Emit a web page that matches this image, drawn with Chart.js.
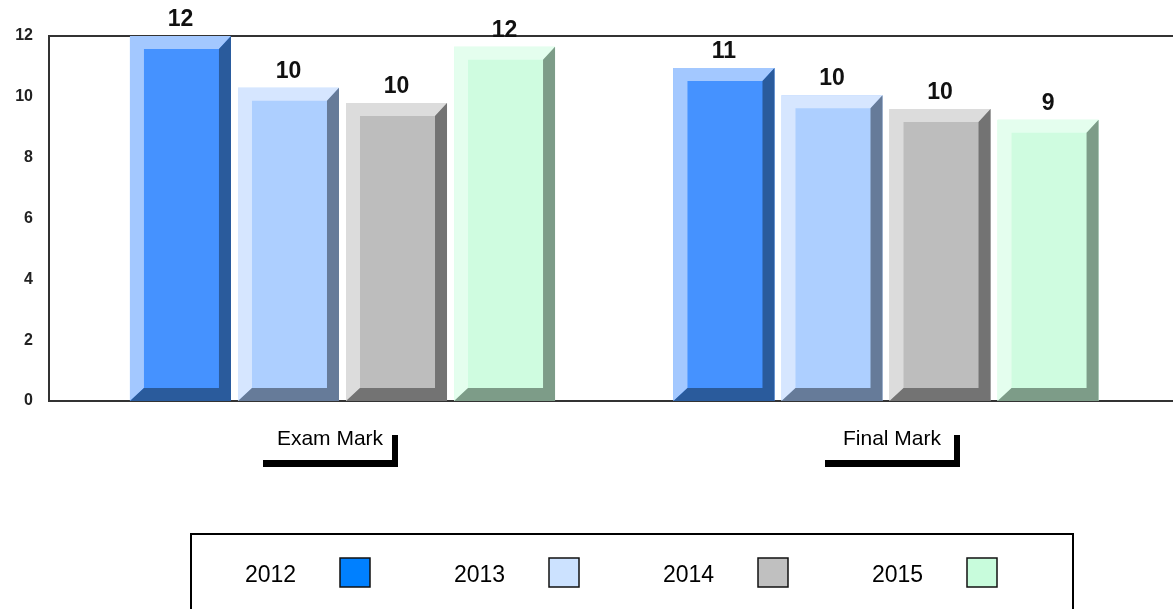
<!DOCTYPE html>
<html><head><meta charset="utf-8">
<script src="https://cdn.jsdelivr.net/npm/chart.js@4/dist/chart.umd.min.js"></script>
<style>html,body{margin:0;padding:0;background:#fff;overflow:hidden}#wrap{width:1173px;height:609px;position:relative}canvas{display:block}</style>
</head><body><div id="wrap"><canvas id="c" width="1173" height="609"></canvas></div>
<script>
// ---- data ----
const categories = ['Exam Mark', 'Final Mark'];
const seriesNames = ['2012', '2013', '2014', '2015'];
const values2012 = [12.0, 10.95];
const values2013 = [10.3, 10.05];
const values2014 = [9.8, 9.6];
const values2015 = [11.65, 9.25];
const yTickValues = [0, 2, 4, 6, 8, 10, 12];

// ---- styles ----
const FONT = 'Arial, "Liberation Sans", sans-serif';
const styles = [
  {front: '#4592FF', light: '#A3C8FF', dark: '#2A5B9C', legend: '#0080FF'},
  {front: '#ADCFFF', light: '#D6E6FF', dark: '#667B99', legend: '#CCE2FF'},
  {front: '#BDBDBD', light: '#DCDCDC', dark: '#737373', legend: '#C0C0C0'},
  {front: '#CFFCE0', light: '#E4FEEE', dark: '#7D9C88', legend: '#C8FCDC'}
];
const seriesValues = [values2012, values2013, values2014, values2015];

const datasets = seriesNames.map((name, s) => ({
  label: name,
  data: seriesValues[s].map((v, i) => ({x: i, y: v})),
  backgroundColor: styles[s].front,
  borderWidth: 0,
  xAxisID: 'x',
  yAxisID: 'y'
}));

const bevelPlugin = {
  id: 'bevel',
  afterDatasetsDraw(chart) {
    const ctx = chart.ctx;
    chart.data.datasets.forEach((ds, di) => {
      const meta = chart.getDatasetMeta(di);
      const st = styles[di];
      meta.data.forEach((bar, i) => {
        const p = bar.getProps(['x', 'y', 'base', 'width'], true);
        const L = p.x - p.width / 2, R = p.x + p.width / 2, T = p.y, B = p.base;
        const dl = 14, dt = 13, dr = 12, db = 13;
        ctx.save();
        ctx.fillStyle = st.light;
        ctx.beginPath();
        ctx.moveTo(L, B); ctx.lineTo(L, T); ctx.lineTo(R, T);
        ctx.lineTo(R - dr, T + dt); ctx.lineTo(L + dl, T + dt); ctx.lineTo(L + dl, B - db);
        ctx.closePath(); ctx.fill();
        ctx.fillStyle = st.dark;
        ctx.beginPath();
        ctx.moveTo(R, T); ctx.lineTo(R, B); ctx.lineTo(L, B);
        ctx.lineTo(L + dl, B - db); ctx.lineTo(R - dr, B - db); ctx.lineTo(R - dr, T + dt);
        ctx.closePath(); ctx.fill();
        ctx.font = 'bold 23px ' + FONT;
        ctx.fillStyle = '#111';
        ctx.textAlign = 'center';
        ctx.textBaseline = 'alphabetic';
        ctx.fillText(String(Math.round(ds.data[i].y)), p.x, T - 10);
        ctx.restore();
      });
    });
  },
  afterDraw(chart) {
    const ctx = chart.ctx;
    const xc = chart.scales.xc;
    const bottom = chart.chartArea.bottom;
    ctx.save();
    ctx.fillStyle = '#000';
    categories.forEach((c, i) => {
      const px = xc.getPixelForTick(i);
      ctx.fillRect(px - 67, bottom + 59, 135, 7);
      ctx.fillRect(px + 62, bottom + 34, 6, 32);
    });
    // legend
    const lx = 191, ly = 534, lr = 1073;
    ctx.strokeStyle = '#000';
    ctx.lineWidth = 2;
    ctx.strokeRect(lx, ly, lr - lx, 120);
    ctx.font = '23px ' + FONT;
    ctx.textAlign = 'left';
    ctx.textBaseline = 'alphabetic';
    seriesNames.forEach((n, i) => {
      const tx = 245 + i * 209;
      ctx.fillStyle = '#000';
      ctx.fillText(n, tx, 582);
      const sx = 340 + i * 209;
      ctx.fillStyle = styles[i].legend;
      ctx.fillRect(sx, 558, 30, 29);
      ctx.lineWidth = 1.5;
      ctx.strokeStyle = '#111';
      ctx.strokeRect(sx, 558, 30, 29);
    });
    ctx.restore();
  }
};

new Chart(document.getElementById('c'), {
  type: 'bar',
  data: { labels: categories, datasets },
  options: {
    responsive: false,
    animation: false,
    devicePixelRatio: 1,
    layout: { padding: { top: 36, left: 0, right: 0, bottom: 0 } },
    categoryPercentage: 0.795,
    barPercentage: 0.935,
    plugins: { legend: { display: false }, tooltip: { enabled: false } },
    scales: {
      x: {
        type: 'linear', position: 'top', offset: false,
        min: -0.54, max: 1.528,
        ticks: { display: false, stepSize: 1, includeBounds: false },
        grid: { display: false, drawTicks: false },
        border: { display: true, color: '#333', width: 2 },
        afterFit(s) { s.height = 0; }
      },
      xc: {
        type: 'category', position: 'bottom', offset: true,
        labels: categories,
        ticks: { color: '#000', font: { family: FONT, size: 21 }, padding: 26, maxRotation: 0 },
        grid: { display: false, drawTicks: false, offset: true },
        border: { display: true, color: '#333', width: 2 },
        afterFit(s) { s.height = 208; }
      },
      y: {
        type: 'linear', position: 'left', min: 0, max: 12,
        afterBuildTicks(s) { s.ticks = yTickValues.map(v => ({value: v})); },
        ticks: { color: '#222', font: { family: FONT, size: 16, weight: 'bold' }, padding: 16 },
        grid: { display: false, drawTicks: false },
        border: { display: true, color: '#333', width: 2 },
        afterFit(s) { s.width = 49; }
      }
    }
  },
  plugins: [bevelPlugin]
});
</script>
</body></html>
